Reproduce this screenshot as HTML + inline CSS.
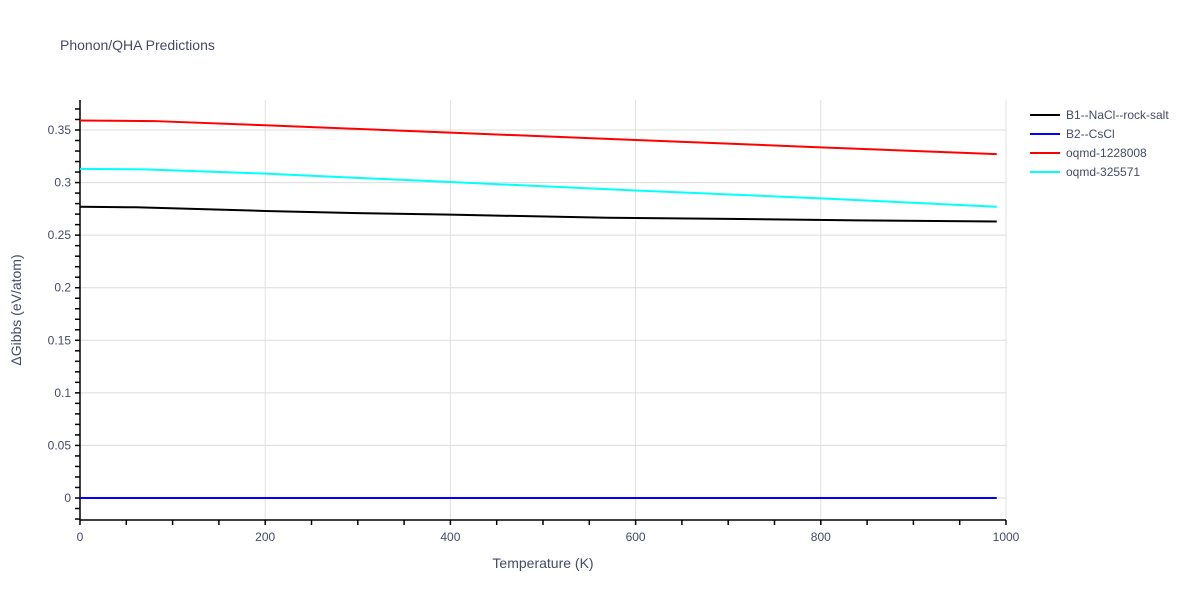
<!DOCTYPE html>
<html><head><meta charset="utf-8"><style>
body{margin:0;background:#fff;font-family:"Liberation Sans",sans-serif;}
svg text{font-family:"Liberation Sans",sans-serif;fill:#444a6a;}
</style></head><body>
<svg id="chart" width="1200" height="600" xmlns="http://www.w3.org/2000/svg">
<rect width="1200" height="600" fill="#fff"/>
<text x="60" y="50" font-size="14">Phonon/QHA Predictions</text>
<g id="grid"></g>
<g id="axes"></g>
<g id="series"></g>
<text x="543" y="568" font-size="14" text-anchor="middle">Temperature (K)</text>
<text transform="translate(21,310) rotate(-90)" font-size="14" text-anchor="middle">ΔGibbs (eV/atom)</text>
<g id="legend"></g>
</svg>
<script>
const xTicks=[0,200,400,600,800,1000];
const yTicks=[0,0.05,0.1,0.15,0.2,0.25,0.3,0.35];
const yTickLabels=["0","0.05","0.1","0.15","0.2","0.25","0.3","0.35"];
const seriesNames=["B1--NaCl--rock-salt","B2--CsCl","oqmd-1228008","oqmd-325571"];
const seriesColors=["#000000","#0000ff","#ff0000","#00ffff"];
const tempB1=[0,60,200,300,400,570,700,840,990];
const valB1=[0.277,0.2765,0.273,0.271,0.2695,0.2665,0.2655,0.264,0.263];
const tempB2=[0,990];
const valB2=[0,0];
const tempR=[0,80,200,400,600,800,990];
const valR=[0.359,0.3585,0.3545,0.3475,0.3405,0.3335,0.327];
const tempC=[0,70,200,400,600,800,990];
const valC=[0.313,0.3125,0.3085,0.3005,0.2925,0.285,0.277];
const ns="http://www.w3.org/2000/svg";
const X0=80,X1=1006,Y0=498,Y35=130,PT=100,PB=520;
const xs=v=>X0+(X1-X0)*v/1000;
const ys=v=>Y0-(Y0-Y35)*v/0.35;
function mk(tag,attrs,parent){const e=document.createElementNS(ns,tag);for(const k in attrs)e.setAttribute(k,attrs[k]);parent.appendChild(e);return e;}
const grid=document.getElementById('grid'),axes=document.getElementById('axes'),series=document.getElementById('series'),legend=document.getElementById('legend');
xTicks.forEach(t=>{if(t===0)return;const l=mk('line',{x1:xs(t),x2:xs(t),y1:PT,y2:PB,stroke:'#e0e0e0','stroke-width':1},grid);

});
yTicks.forEach(t=>{const l=mk('line',{x1:X0,x2:X1,y1:ys(t),y2:ys(t),stroke:'#dcdcdc','stroke-width':1},grid);

});
mk('line',{x1:X0,x2:X0,y1:PT,y2:PB,stroke:'#000','stroke-width':1.5},axes);
mk('line',{x1:X0,x2:X1,y1:PB,y2:PB,stroke:'#000','stroke-width':1.5},axes);
for(let v=-0.02;v<=0.375;v+=0.01){const y=ys(v);if(y<PT||y>PB)continue;mk('line',{x1:X0-5,x2:X0,y1:y,y2:y,stroke:'#000','stroke-width':1.5},axes);}
for(let v=0;v<=1000;v+=50){mk('line',{x1:xs(v),x2:xs(v),y1:PB,y2:PB+5,stroke:'#000','stroke-width':1.5},axes);}
xTicks.forEach(t=>{const e=mk('text',{x:xs(t),y:PB+21,'font-size':12,'text-anchor':'middle'},axes);e.textContent=t;

});
yTicks.forEach((t,i)=>{const e=mk('text',{x:X0-9,y:ys(t)+4,'font-size':12,'text-anchor':'end'},axes);e.textContent=yTickLabels[i];

});
const data=[[tempB1,valB1],[tempB2,valB2],[tempR,valR],[tempC,valC]];
data.forEach((d,i)=>{const pts=d[0].map((t,j)=>xs(t)+','+ys(d[1][j])).join(' ');
const p=mk('polyline',{points:pts,fill:'none',stroke:seriesColors[i],'stroke-width':2},series);

});
seriesNames.forEach((n,i)=>{const y=115+i*19;const g=mk('g',{},legend);


mk('line',{x1:1030,x2:1060,y1:y,y2:y,stroke:seriesColors[i],'stroke-width':2},g);
const t=mk('text',{x:1066,y:y+4,'font-size':12},g);t.textContent=n;});
</script>
</body></html>
